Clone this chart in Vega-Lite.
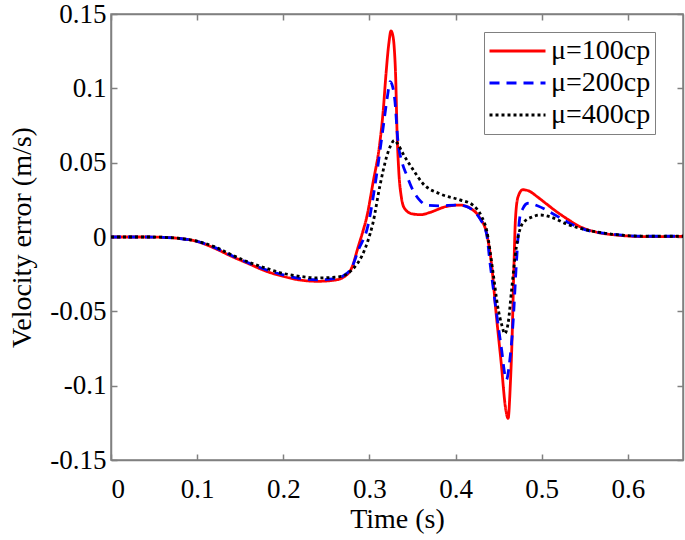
{
  "$schema": "https://vega.github.io/schema/vega-lite/v6.json",
  "width": 572,
  "height": 446,
  "autosize": {"type": "none"},
  "padding": {"left": 111, "top": 14, "right": 2, "bottom": 80},
  "background": "white",
  "config": {
    "font": "Liberation Serif",
    "view": {"stroke": "#808080", "strokeWidth": 1.5},
    "axis": {
      "grid": false,
      "labelFont": "Liberation Serif",
      "labelFontSize": 27,
      "labelColor": "#000000",
      "titleFont": "Liberation Serif",
      "titleFontSize": 28,
      "titleFontWeight": "normal",
      "titleColor": "#000000",
      "domainColor": "#808080",
      "domainWidth": 1.5,
      "tickColor": "#808080",
      "tickWidth": 1.5,
      "tickSize": -6
    },
    "legend": {
      "labelFont": "Liberation Serif",
      "labelFontSize": 27,
      "labelColor": "#000000"
    }
  },
  "data": {"values": [
    {"t":0,"v":0,"s":"μ=100cp"},{"t":0.02,"v":0,"s":"μ=100cp"},{"t":0.04,"v":0,"s":"μ=100cp"},{"t":0.06,"v":-0.0002,"s":"μ=100cp"},{"t":0.08,"v":-0.001,"s":"μ=100cp"},{"t":0.1,"v":-0.003,"s":"μ=100cp"},{"t":0.12,"v":-0.0075,"s":"μ=100cp"},{"t":0.14,"v":-0.013,"s":"μ=100cp"},{"t":0.16,"v":-0.018,"s":"μ=100cp"},{"t":0.18,"v":-0.023,"s":"μ=100cp"},{"t":0.2,"v":-0.0265,"s":"μ=100cp"},{"t":0.22,"v":-0.029,"s":"μ=100cp"},{"t":0.24,"v":-0.0298,"s":"μ=100cp"},{"t":0.26,"v":-0.029,"s":"μ=100cp"},{"t":0.27,"v":-0.027,"s":"μ=100cp"},{"t":0.28,"v":-0.02,"s":"μ=100cp"},{"t":0.287,"v":-0.0065,"s":"μ=100cp"},{"t":0.292,"v":0.003,"s":"μ=100cp"},{"t":0.297,"v":0.0137,"s":"μ=100cp"},{"t":0.304,"v":0.036,"s":"μ=100cp"},{"t":0.312,"v":0.063,"s":"μ=100cp"},{"t":0.316,"v":0.085,"s":"μ=100cp"},{"t":0.319,"v":0.108,"s":"μ=100cp"},{"t":0.3226,"v":0.1305,"s":"μ=100cp"},{"t":0.325,"v":0.1386,"s":"μ=100cp"},{"t":0.327,"v":0.136,"s":"μ=100cp"},{"t":0.3287,"v":0.128,"s":"μ=100cp"},{"t":0.3306,"v":0.105,"s":"μ=100cp"},{"t":0.332,"v":0.072,"s":"μ=100cp"},{"t":0.334,"v":0.045,"s":"μ=100cp"},{"t":0.337,"v":0.027,"s":"μ=100cp"},{"t":0.341,"v":0.019,"s":"μ=100cp"},{"t":0.35,"v":0.0155,"s":"μ=100cp"},{"t":0.36,"v":0.015,"s":"μ=100cp"},{"t":0.37,"v":0.0165,"s":"μ=100cp"},{"t":0.389,"v":0.0205,"s":"μ=100cp"},{"t":0.405,"v":0.0215,"s":"μ=100cp"},{"t":0.418,"v":0.019,"s":"μ=100cp"},{"t":0.428,"v":0.013,"s":"μ=100cp"},{"t":0.436,"v":0.0025,"s":"μ=100cp"},{"t":0.4416,"v":-0.0177,"s":"μ=100cp"},{"t":0.447,"v":-0.051,"s":"μ=100cp"},{"t":0.453,"v":-0.085,"s":"μ=100cp"},{"t":0.458,"v":-0.115,"s":"μ=100cp"},{"t":0.461,"v":-0.122,"s":"μ=100cp"},{"t":0.4635,"v":-0.1,"s":"μ=100cp"},{"t":0.4655,"v":-0.07,"s":"μ=100cp"},{"t":0.4675,"v":-0.025,"s":"μ=100cp"},{"t":0.4695,"v":0.012,"s":"μ=100cp"},{"t":0.4725,"v":0.027,"s":"μ=100cp"},{"t":0.478,"v":0.0318,"s":"μ=100cp"},{"t":0.485,"v":0.031,"s":"μ=100cp"},{"t":0.495,"v":0.027,"s":"μ=100cp"},{"t":0.505,"v":0.0225,"s":"μ=100cp"},{"t":0.515,"v":0.018,"s":"μ=100cp"},{"t":0.53,"v":0.012,"s":"μ=100cp"},{"t":0.545,"v":0.0068,"s":"μ=100cp"},{"t":0.56,"v":0.0038,"s":"μ=100cp"},{"t":0.587,"v":0.0013,"s":"μ=100cp"},{"t":0.625,"v":0.0002,"s":"μ=100cp"},{"t":0.664,"v":0.0005,"s":"μ=100cp"},
    {"t":0,"v":0,"s":"μ=200cp"},{"t":0.02,"v":0,"s":"μ=200cp"},{"t":0.04,"v":0,"s":"μ=200cp"},{"t":0.06,"v":-0.0002,"s":"μ=200cp"},{"t":0.08,"v":-0.001,"s":"μ=200cp"},{"t":0.1,"v":-0.003,"s":"μ=200cp"},{"t":0.12,"v":-0.007,"s":"μ=200cp"},{"t":0.14,"v":-0.0125,"s":"μ=200cp"},{"t":0.16,"v":-0.0175,"s":"μ=200cp"},{"t":0.18,"v":-0.022,"s":"μ=200cp"},{"t":0.2,"v":-0.0255,"s":"μ=200cp"},{"t":0.22,"v":-0.028,"s":"μ=200cp"},{"t":0.24,"v":-0.0288,"s":"μ=200cp"},{"t":0.26,"v":-0.028,"s":"μ=200cp"},{"t":0.27,"v":-0.026,"s":"μ=200cp"},{"t":0.28,"v":-0.02,"s":"μ=200cp"},{"t":0.287,"v":-0.009,"s":"μ=200cp"},{"t":0.298,"v":0.007,"s":"μ=200cp"},{"t":0.308,"v":0.0406,"s":"μ=200cp"},{"t":0.316,"v":0.074,"s":"μ=200cp"},{"t":0.321,"v":0.095,"s":"μ=200cp"},{"t":0.324,"v":0.1045,"s":"μ=200cp"},{"t":0.327,"v":0.101,"s":"μ=200cp"},{"t":0.3295,"v":0.092,"s":"μ=200cp"},{"t":0.333,"v":0.065,"s":"μ=200cp"},{"t":0.338,"v":0.05,"s":"μ=200cp"},{"t":0.343,"v":0.042,"s":"μ=200cp"},{"t":0.35,"v":0.032,"s":"μ=200cp"},{"t":0.358,"v":0.025,"s":"μ=200cp"},{"t":0.366,"v":0.0215,"s":"μ=200cp"},{"t":0.382,"v":0.021,"s":"μ=200cp"},{"t":0.4,"v":0.0215,"s":"μ=200cp"},{"t":0.413,"v":0.0205,"s":"μ=200cp"},{"t":0.42,"v":0.018,"s":"μ=200cp"},{"t":0.428,"v":0.0125,"s":"μ=200cp"},{"t":0.436,"v":0.002,"s":"μ=200cp"},{"t":0.44,"v":-0.0175,"s":"μ=200cp"},{"t":0.4475,"v":-0.051,"s":"μ=200cp"},{"t":0.453,"v":-0.074,"s":"μ=200cp"},{"t":0.459,"v":-0.096,"s":"μ=200cp"},{"t":0.4625,"v":-0.085,"s":"μ=200cp"},{"t":0.4667,"v":-0.058,"s":"μ=200cp"},{"t":0.4706,"v":-0.0177,"s":"μ=200cp"},{"t":0.4745,"v":0.013,"s":"μ=200cp"},{"t":0.478,"v":0.019,"s":"μ=200cp"},{"t":0.484,"v":0.0227,"s":"μ=200cp"},{"t":0.495,"v":0.021,"s":"μ=200cp"},{"t":0.509,"v":0.017,"s":"μ=200cp"},{"t":0.53,"v":0.01,"s":"μ=200cp"},{"t":0.55,"v":0.005,"s":"μ=200cp"},{"t":0.58,"v":0.002,"s":"μ=200cp"},{"t":0.62,"v":0.0005,"s":"μ=200cp"},{"t":0.664,"v":0.0005,"s":"μ=200cp"},
    {"t":0,"v":0,"s":"μ=400cp"},{"t":0.02,"v":0,"s":"μ=400cp"},{"t":0.04,"v":0,"s":"μ=400cp"},{"t":0.06,"v":-0.0002,"s":"μ=400cp"},{"t":0.08,"v":-0.001,"s":"μ=400cp"},{"t":0.1,"v":-0.0028,"s":"μ=400cp"},{"t":0.12,"v":-0.0065,"s":"μ=400cp"},{"t":0.14,"v":-0.012,"s":"μ=400cp"},{"t":0.16,"v":-0.017,"s":"μ=400cp"},{"t":0.18,"v":-0.021,"s":"μ=400cp"},{"t":0.2,"v":-0.0245,"s":"μ=400cp"},{"t":0.22,"v":-0.0265,"s":"μ=400cp"},{"t":0.24,"v":-0.0275,"s":"μ=400cp"},{"t":0.26,"v":-0.027,"s":"μ=400cp"},{"t":0.27,"v":-0.026,"s":"μ=400cp"},{"t":0.28,"v":-0.022,"s":"μ=400cp"},{"t":0.291,"v":-0.013,"s":"μ=400cp"},{"t":0.298,"v":-0.003,"s":"μ=400cp"},{"t":0.304,"v":0.0092,"s":"μ=400cp"},{"t":0.312,"v":0.034,"s":"μ=400cp"},{"t":0.32,"v":0.054,"s":"μ=400cp"},{"t":0.325,"v":0.062,"s":"μ=400cp"},{"t":0.329,"v":0.065,"s":"μ=400cp"},{"t":0.333,"v":0.0625,"s":"μ=400cp"},{"t":0.339,"v":0.056,"s":"μ=400cp"},{"t":0.351,"v":0.045,"s":"μ=400cp"},{"t":0.362,"v":0.036,"s":"μ=400cp"},{"t":0.382,"v":0.029,"s":"μ=400cp"},{"t":0.405,"v":0.025,"s":"μ=400cp"},{"t":0.42,"v":0.0215,"s":"μ=400cp"},{"t":0.43,"v":0.014,"s":"μ=400cp"},{"t":0.436,"v":0.0047,"s":"μ=400cp"},{"t":0.4435,"v":-0.024,"s":"μ=400cp"},{"t":0.449,"v":-0.047,"s":"μ=400cp"},{"t":0.454,"v":-0.06,"s":"μ=400cp"},{"t":0.457,"v":-0.065,"s":"μ=400cp"},{"t":0.461,"v":-0.058,"s":"μ=400cp"},{"t":0.465,"v":-0.0357,"s":"μ=400cp"},{"t":0.4706,"v":-0.0065,"s":"μ=400cp"},{"t":0.478,"v":0.0092,"s":"μ=400cp"},{"t":0.49,"v":0.0137,"s":"μ=400cp"},{"t":0.498,"v":0.0148,"s":"μ=400cp"},{"t":0.51,"v":0.0135,"s":"μ=400cp"},{"t":0.53,"v":0.0085,"s":"μ=400cp"},{"t":0.55,"v":0.005,"s":"μ=400cp"},{"t":0.58,"v":0.002,"s":"μ=400cp"},{"t":0.62,"v":0.0005,"s":"μ=400cp"},{"t":0.664,"v":0.0005,"s":"μ=400cp"}
  ]},
  "layer": [
    {
      "mark": {"type": "line", "strokeWidth": 2.8, "clip": true, "interpolate": "monotone"},
      "encoding": {
        "x": {"field": "t", "type": "quantitative",
              "scale": {"domain": [0, 0.664], "nice": false, "zero": false},
              "axis": {"values": [0, 0.1, 0.2, 0.3, 0.4, 0.5, 0.6], "labelExpr": "datum.value + ''", "labelFont": "Liberation Serif", "titleFont": "Liberation Serif", "title": "Time (s)", "labelPadding": 22, "titlePadding": 3, "orient": "bottom"}},
        "y": {"field": "v", "type": "quantitative",
              "scale": {"domain": [-0.15, 0.15], "nice": false},
              "axis": {"values": [-0.15, -0.1, -0.05, 0, 0.05, 0.1, 0.15], "labelExpr": "datum.value + ''", "labelFont": "Liberation Serif", "titleFont": "Liberation Serif", "title": "Velocity error (m/s)", "labelPadding": 11, "titlePadding": 13, "orient": "left"}},
        "color": {"field": "s", "type": "nominal",
                  "scale": {"domain": ["μ=100cp", "μ=200cp", "μ=400cp"], "range": ["#ff0000", "#0000ff", "#000000"]},
                  "legend": {"title": null, "orient": "none", "legendX": 373, "legendY": 18, "symbolType": "stroke", "symbolSize": 3136, "symbolStrokeWidth": 3, "strokeColor": "#808080", "fillColor": "white", "padding": 4, "rowPadding": 2, "clipHeight": 30, "labelOffset": 4, "labelFont": "Liberation Serif", "labelFontSize": 28}},
        "strokeDash": {"field": "s", "type": "nominal",
                  "scale": {"domain": ["μ=100cp", "μ=200cp", "μ=400cp"], "range": [[1, 0], [10, 7], [3, 3]]},
                  "legend": {"title": null, "orient": "none", "legendX": 373, "legendY": 18, "symbolType": "stroke", "symbolSize": 3136, "symbolStrokeWidth": 3, "strokeColor": "#808080", "fillColor": "white", "padding": 4, "rowPadding": 2, "clipHeight": 30, "labelOffset": 4, "labelFont": "Liberation Serif", "labelFontSize": 28}}
      }
    },
    {
      "mark": {"type": "line", "strokeOpacity": 0},
      "encoding": {
        "x": {"field": "t", "type": "quantitative",
              "axis": {"values": [0, 0.1, 0.2, 0.3, 0.4, 0.5, 0.6], "labels": false, "title": null, "orient": "top"}},
        "y": {"field": "v", "type": "quantitative",
              "axis": {"values": [-0.15, -0.1, -0.05, 0, 0.05, 0.1, 0.15], "labels": false, "title": null, "orient": "right"}},
        "detail": {"field": "s"}
      }
    }
  ],
  "resolve": {"axis": {"x": "independent", "y": "independent"}}
}
